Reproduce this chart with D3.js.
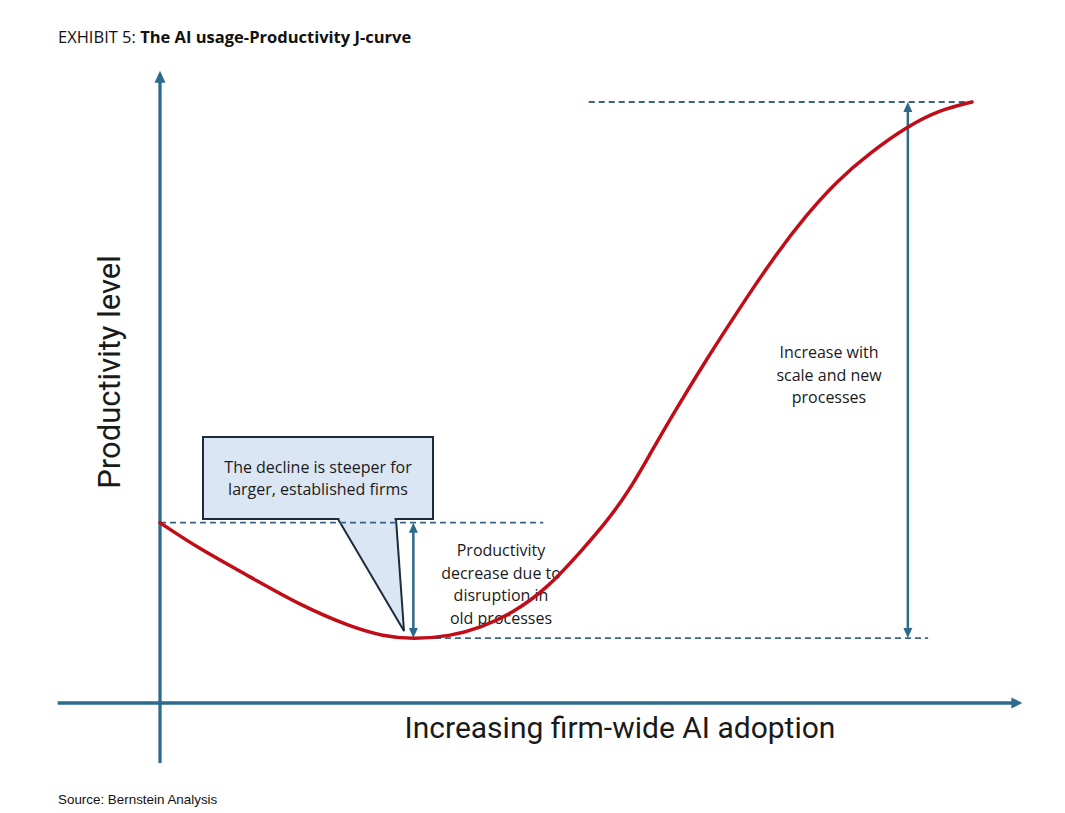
<!DOCTYPE html>
<html>
<head>
<meta charset="utf-8">
<title>EXHIBIT 5: The AI usage-Productivity J-curve</title>
<script src="https://cdnjs.cloudflare.com/ajax/libs/d3/7.8.5/d3.min.js"></script>
<style>
    body { margin: 0; background: #fff; }
    svg { display: block; }
</style>
</head>
<body>
<svg id="chart" width="1065" height="813"></svg>
<script>
    // J-curve: adoption 0-100 on x, productivity 0-100 on y
    const adoption     = [0, 4.9, 11.1, 17.2, 23.4, 27.5, 31.2, 35.7, 39.4, 43.5, 47.7, 51.7, 55.1, 57.9, 60.3, 63.2, 67.4, 71.4, 75.5, 79.7, 83.4, 87.4, 92.1, 96.1, 100];
    const productivity = [30, 25.6, 21.0, 16.3, 12.7, 11.1, 10.6, 11.1, 12.5, 15.0, 19.1, 25.0, 30.3, 35.6, 41.3, 48.1, 57.4, 65.7, 74.0, 81.4, 86.9, 91.5, 96.0, 98.7, 100];

    // reference levels and where the dimension arrows sit
    const startLevel = 30;
    const troughLevel = 10.8;
    const peakLevel = 100;
    const dipArrowX = 31.2;
    const gainArrowX = 92.1;
    const startLineX = [0, 47.2];
    const troughLineX = [31.4, 94.6];
    const peakLineX = [52.8, 100];

    const xLabel = 'Increasing firm-wide AI adoption';
    const yLabel = 'Productivity level';
    const calloutLines = ['The decline is steeper for', 'larger, established firms'];
    const dipLines = ['Productivity', 'decrease due to', 'disruption in', 'old processes'];
    const gainLines = ['Increase with', 'scale and new', 'processes'];

    const axisColor = '#2d6b8c';
    const dashColor = '#3a6285';
    const curveColor = '#c00d18';
    const textColor = '#1a1a1a';
    const font = 'Roboto, "Open Sans", sans-serif';
    const noteFont = '"Open Sans", Roboto, sans-serif';

    const svg = d3.select('#chart');

    const x = d3.scaleLinear().domain([0, 100]).range([160, 972]);
    const y = d3.scaleLinear().domain([0, 100]).range([703, 102]);

    // title
    const title = svg.append('text')
        .attr('x', 58).attr('y', 43)
        .attr('font-family', '"Open Sans", sans-serif')
        .attr('font-size', 16.5)
        .attr('fill', '#111');
    title.append('tspan').text('EXHIBIT 5: ');
    title.append('tspan').attr('font-weight', 'bold').text('The AI usage-Productivity J-curve');

    // triangle arrow head with its tip at (tx, ty)
    function arrowHead(g, tx, ty, dir, w, h, color) {
        let pts;
        if (dir === 'up') pts = [[tx, ty], [tx - w / 2, ty + h], [tx + w / 2, ty + h]];
        else if (dir === 'down') pts = [[tx, ty], [tx - w / 2, ty - h], [tx + w / 2, ty - h]];
        else pts = [[tx, ty], [tx - h, ty - w / 2], [tx - h, ty + w / 2]];
        g.append('path')
            .attr('d', d3.line()(pts) + 'Z')
            .attr('fill', color);
    }

    // axes
    const axes = svg.append('g');
    axes.append('line')
        .attr('x1', x(-12.6)).attr('x2', x(106.2) - 8)
        .attr('y1', y(0)).attr('y2', y(0))
        .attr('stroke', axisColor).attr('stroke-width', 3.3);
    arrowHead(axes, x(106.2), y(0), 'right', 11, 11, axisColor);

    axes.append('line')
        .attr('x1', x(0)).attr('x2', x(0))
        .attr('y1', y(-10)).attr('y2', y(105.2) + 8)
        .attr('stroke', axisColor).attr('stroke-width', 3.3);
    arrowHead(axes, x(0), y(105.2), 'up', 11, 12, axisColor);

    svg.append('text')
        .attr('x', 620).attr('y', 738)
        .attr('text-anchor', 'middle')
        .attr('font-family', font)
        .attr('font-size', 30)
        .attr('fill', textColor)
        .text(xLabel);

    svg.append('text')
        .attr('transform', 'translate(120,372) rotate(-90)')
        .attr('text-anchor', 'middle')
        .attr('font-family', font)
        .attr('font-size', 31)
        .attr('fill', textColor)
        .text(yLabel);

    // callout box with pointer
    const callout = svg.append('g');
    callout.append('path')
        .attr('d', `M338,519 L404,631 L396,519`)
        .attr('fill', '#dae6f4')
        .attr('stroke', '#1c2c3d')
        .attr('stroke-width', 2);
    callout.append('rect')
        .attr('x', 203).attr('y', 437)
        .attr('width', 230).attr('height', 82)
        .attr('fill', '#dae6f4')
        .attr('stroke', '#1c2c3d')
        .attr('stroke-width', 2);
    // hide the pointer's joint on the box edge
    callout.append('line')
        .attr('x1', 339.5).attr('x2', 394.5)
        .attr('y1', 519).attr('y2', 519)
        .attr('stroke', '#dae6f4').attr('stroke-width', 2.5);
    callout.append('text')
        .attr('text-anchor', 'middle')
        .attr('font-family', noteFont)
        .attr('font-size', 16)
        .attr('fill', textColor)
        .selectAll('tspan')
        .data(calloutLines)
        .join('tspan')
        .attr('x', 318)
        .attr('y', (d, i) => 473 + i * 22)
        .text(d => d);

    // dashed reference levels
    const dashes = svg.append('g')
        .attr('stroke', dashColor)
        .attr('stroke-width', 1.8)
        .attr('stroke-dasharray', '6,4');
    [[startLineX, startLevel], [troughLineX, troughLevel], [peakLineX, peakLevel]].forEach(([xs, lv]) => {
        dashes.append('line')
            .attr('x1', x(xs[0])).attr('x2', x(xs[1]))
            .attr('y1', y(lv)).attr('y2', y(lv));
    });

    // dimension arrows
    const dims = svg.append('g');
    function doubleArrow(xv, lo, hi, w, h) {
        dims.append('line')
            .attr('x1', x(xv)).attr('x2', x(xv))
            .attr('y1', y(hi) + h - 1).attr('y2', y(lo) - h + 1)
            .attr('stroke', axisColor).attr('stroke-width', 2.5);
        arrowHead(dims, x(xv), y(hi), 'up', w, h, axisColor);
        arrowHead(dims, x(xv), y(lo), 'down', w, h, axisColor);
    }
    doubleArrow(dipArrowX, troughLevel, startLevel, 9, 10);
    doubleArrow(gainArrowX, troughLevel, peakLevel, 9, 10);

    // annotation texts
    function textBlock(lines, cx, y0, step, size) {
        svg.append('text')
            .attr('text-anchor', 'middle')
            .attr('font-family', noteFont)
            .attr('font-size', size)
            .attr('fill', textColor)
            .selectAll('tspan')
            .data(lines)
            .join('tspan')
            .attr('x', cx)
            .attr('y', (d, i) => y0 + i * step)
            .text(d => d);
    }
    textBlock(dipLines, 501, 556, 22.5, 16);
    textBlock(gainLines, 829, 358, 22.5, 16);

    // the J-curve (basis smooths the hand-read points)
    const points = adoption.map((a, i) => [a, productivity[i]]);
    svg.append('path')
        .datum(points)
        .attr('fill', 'none')
        .attr('stroke', curveColor)
        .attr('stroke-width', 3.5)
        .attr('stroke-linecap', 'round')
        .attr('d', d3.line()
            .x(d => x(d[0]))
            .y(d => y(d[1]))
            .curve(d3.curveBasis));

    // source
    svg.append('text')
        .attr('x', 58).attr('y', 804)
        .attr('font-family', '"Liberation Sans Narrow", "Arial Narrow", sans-serif')
        .attr('font-size', 13.4)
        .attr('fill', '#111')
        .text('Source: Bernstein Analysis');
</script>
</body>
</html>
